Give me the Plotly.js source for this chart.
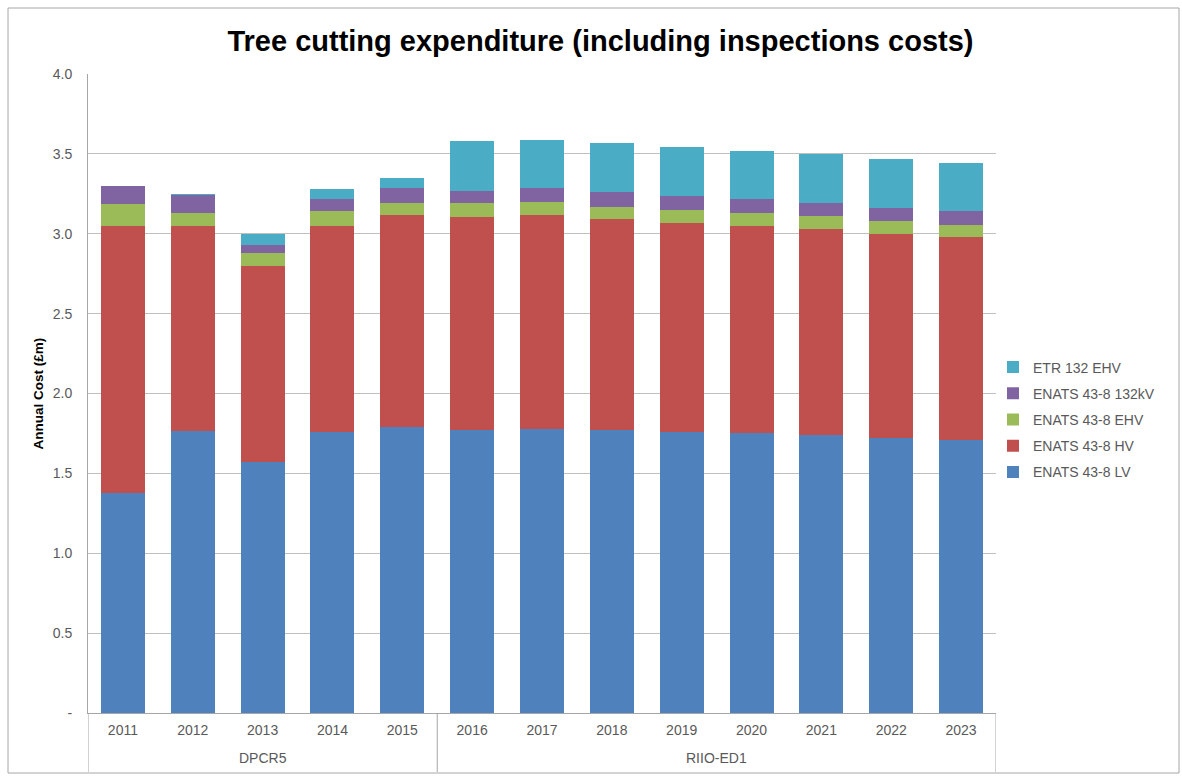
<!DOCTYPE html>
<html>
<head>
<meta charset="utf-8">
<script src="https://cdn.plot.ly/plotly-3.0.1.min.js"></script>
<style>
html,body{margin:0;padding:0;background:#fff;}
#chart{width:1182px;height:776px;}
</style>
</head>
<body>
<div id="chart"></div>
<script>
const years = ['2011','2012','2013','2014','2015','2016','2017','2018','2019','2020','2021','2022','2023'];
const periods = ['DPCR5','DPCR5','DPCR5','DPCR5','DPCR5','RIIO-ED1','RIIO-ED1','RIIO-ED1','RIIO-ED1','RIIO-ED1','RIIO-ED1','RIIO-ED1','RIIO-ED1'];

const lv    = [1.38, 1.765, 1.57, 1.76, 1.79, 1.77, 1.78, 1.77, 1.76, 1.75, 1.74, 1.72, 1.71];
const hv    = [1.67, 1.285, 1.23, 1.29, 1.33, 1.335, 1.34, 1.325, 1.31, 1.30, 1.29, 1.28, 1.27];
const ehv   = [0.135, 0.08, 0.08, 0.09, 0.07, 0.085, 0.08, 0.075, 0.08, 0.08, 0.08, 0.08, 0.075];
const kv132 = [0.115, 0.11, 0.05, 0.08, 0.095, 0.08, 0.085, 0.09, 0.085, 0.085, 0.085, 0.08, 0.085];
const etr   = [0, 0.01, 0.07, 0.06, 0.065, 0.31, 0.305, 0.31, 0.31, 0.305, 0.305, 0.305, 0.305];

const seriesNames = ['ENATS 43-8 LV','ENATS 43-8 HV','ENATS 43-8 EHV','ENATS 43-8 132kV','ETR 132 EHV'];
const seriesColors = ['#4F81BD','#C0504D','#9BBB59','#8064A2','#4BACC6'];
const seriesValues = [lv, hv, ehv, kv132, etr];

const yTickVals = [0, 0.5, 1.0, 1.5, 2.0, 2.5, 3.0, 3.5, 4.0];
const yTickText = ['-', '0.5', '1.0', '1.5', '2.0', '2.5', '3.0', '3.5', '4.0'];

const traces = seriesValues.map((vals, i) => ({
  type: 'bar',
  name: seriesNames[i],
  x: years,
  y: vals,
  legendgroup: 'g' + i,
  legendrank: seriesValues.length - i,
  marker: {color: seriesColors[i], line: {width: 0}},
  hoverinfo: 'skip'
}));

const W = 1182, H = 776, L = 88, R = 186, T = 74, B = 63;
const pw = W - L - R, ph = H - T - B;
const px = v => (v - L) / pw;
const py = v => (H - B - v) / ph;

// group labels and dividers, positioned on the category scale
const groups = [];
periods.forEach((p, i) => {
  const g = groups.find(o => o.name === p);
  if (g) g.last = i; else groups.push({name: p, first: i, last: i});
});
const annotations = groups.map(g => ({
  text: g.name, xref: 'x', yref: 'paper',
  x: (g.first + g.last) / 2, y: -45 / ph,
  xanchor: 'center', yanchor: 'middle', showarrow: false,
  font: {size: 14, color: '#595959'}
}));
const dividerPos = [groups[0].first - 0.5].concat(groups.map(g => g.last + 0.5));
const dividerShapes = dividerPos.map(x => ({
  type: 'line', xref: 'x', yref: 'paper',
  x0: x, x1: x, y0: 0, y1: -59 / ph,
  line: {color: '#a6a6a6', width: 1}
}));

const layout = {
  width: W, height: H,
  margin: {l: L, r: R, t: T, b: B},
  paper_bgcolor: '#ffffff',
  plot_bgcolor: '#ffffff',
  barmode: 'stack',
  bargap: 0.37,
  font: {family: 'Liberation Sans, Arial, sans-serif', size: 14, color: '#595959'},
  title: {
    text: '<b>Tree cutting expenditure (including inspections costs)</b>',
    font: {family: 'Liberation Sans, Arial, sans-serif', size: 29, color: '#000000'},
    x: 0.508, xref: 'container', xanchor: 'center',
    y: 0.948, yref: 'container', yanchor: 'middle'
  },
  xaxis: {
    type: 'category',
    range: [-0.5, years.length - 0.5],
    showline: true, linecolor: '#a6a6a6', linewidth: 1,
    showgrid: false,
    ticks: '',
    ticklabelstandoff: 4,
    tickfont: {size: 14, color: '#595959'}
  },
  yaxis: {
    range: [0, 4.0],
    tickvals: yTickVals, ticktext: yTickText,
    showline: true, linecolor: '#a6a6a6', linewidth: 1,
    ticks: '',
    ticklabelstandoff: 12,
    showgrid: true, gridcolor: '#bfbfbf', gridwidth: 1,
    zeroline: false,
    tickfont: {size: 14, color: '#595959'},
    title: {text: '<b>Annual Cost (£m)</b>', font: {size: 13.5, color: '#000000'}, standoff: 6}
  },
  legend: {
    x: 1 - 3 / pw, xanchor: 'left', y: 0.5 - 26 / ph, yanchor: 'middle',
    traceorder: 'grouped', tracegroupgap: 5,
    font: {size: 14, color: '#595959'},
    itemwidth: 30,
    bgcolor: 'rgba(0,0,0,0)'
  },
  annotations: annotations,
  shapes: [{
    type: 'rect', xref: 'paper', yref: 'paper',
    x0: px(8), x1: px(1179), y0: py(773), y1: py(8),
    line: {color: '#a6a6a6', width: 1}, fillcolor: 'rgba(0,0,0,0)', layer: 'below'
  }].concat(dividerShapes),
  showlegend: true
};

Plotly.newPlot('chart', traces, layout, {displayModeBar: false, staticPlot: true});
</script>
</body>
</html>
